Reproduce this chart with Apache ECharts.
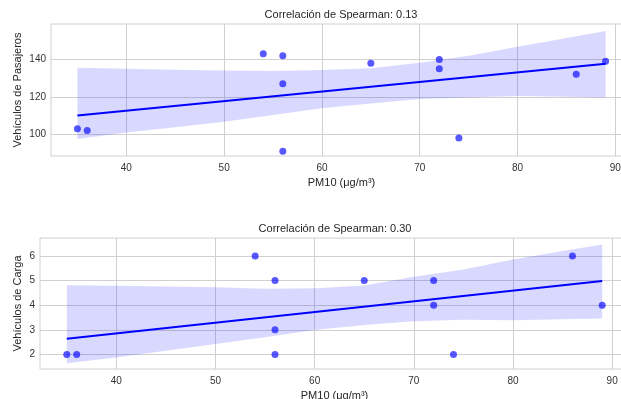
<!DOCTYPE html>
<html>
<head>
<meta charset="utf-8">
<script src="https://cdn.jsdelivr.net/npm/echarts@6/dist/echarts.min.js"></script>
<style>
  html, body { margin: 0; padding: 0; background: #fff; }
  #chart1 { width: 621px; height: 399px; }
</style>
</head>
<body>
<div id="chart1"></div>
<script>
// datos
var pm10 = [35, 36, 54, 56, 56, 56, 65, 72, 72, 74, 86, 89];
var pasajeros = [103, 102, 143, 142, 127, 91, 138, 140, 135, 98, 132, 139];
var carga = [2, 2, 6, 5, 3, 2, 5, 5, 4, 2, 6, 4];

// intervalo de confianza (bootstrap)
var bandX = [35, 40, 45, 50, 55, 60, 65, 70, 75, 80, 85, 89];
var pasajerosUpper = [135.5, 135.0, 134.4, 134.1, 133.8, 134.3, 135.2, 138.2, 142.0, 146.7, 151.4, 155.1];
var pasajerosLower = [97.5, 100.9, 103.8, 106.7, 110.3, 113.9, 116.5, 118.8, 119.6, 120.4, 120.0, 119.7];
var cargaUpper = [4.81, 4.79, 4.76, 4.73, 4.67, 4.69, 4.80, 5.16, 5.45, 5.86, 6.20, 6.47];
var cargaLower = [1.64, 1.88, 2.15, 2.43, 2.70, 2.99, 3.20, 3.35, 3.41, 3.39, 3.43, 3.46];

var xTicks = [40, 50, 60, 70, 80, 90];
var pasajerosTicks = [100, 120, 140];
var cargaTicks = [2, 3, 4, 5, 6];
var titles = ['Correlación de Spearman: 0.13', 'Correlación de Spearman: 0.30'];

var chart1 = echarts.init(document.getElementById('chart1'));

function fit(xs, ys) {
	var n = xs.length, mx = 0, my = 0;
	for (var i = 0; i < n; i++) { mx += xs[i]; my += ys[i]; }
	mx /= n; my /= n;
	var sxx = 0, sxy = 0;
	for (var j = 0; j < n; j++) {
		sxx += (xs[j] - mx) * (xs[j] - mx);
		sxy += (xs[j] - mx) * (ys[j] - my);
	}
	var b = sxy / sxx, a = my - b * mx;
	var x0 = Math.min.apply(null, xs), x1 = Math.max.apply(null, xs);
	return [[x0, a + b * x0], [x1, a + b * x1]];
}

function pairs(xs, ys) {
	return xs.map(function (x, i) { return [x, ys[i]]; });
}

function bandSeries(idx, upper, lower) {
	return {
		type: 'custom',
		xAxisIndex: idx,
		yAxisIndex: idx,
		silent: true,
		z: 1,
		data: bandX.map(function (x, i) { return [x, upper[i], lower[i]]; }),
		encode: { x: 0, y: [1, 2] },
		renderItem: function (params, api) {
			if (params.dataIndex !== 0) return;
			var pts = [];
			for (var i = 0; i < bandX.length; i++) pts.push(api.coord([bandX[i], upper[i]]));
			for (var k = bandX.length - 1; k >= 0; k--) pts.push(api.coord([bandX[k], lower[k]]));
			return {
				type: 'polygon',
				shape: { points: pts },
				style: { fill: 'rgba(0, 0, 255, 0.15)' }
			};
		}
	};
}

var font = 'Liberation Sans, Arial, sans-serif';
var gridColor = '#d0d0d0';

function xAxis(idx) {
	return {
		type: 'value',
		gridIndex: idx,
		min: 32.3,
		max: 91.7,
		name: 'PM10 (μg/m³)',
		nameLocation: 'middle',
		nameGap: 21,
		nameMoveOverlap: false,
		nameTextStyle: { color: '#262626', fontSize: 11, fontFamily: font },
		axisLine: { show: false },
		axisTick: { show: false, customValues: xTicks },
		axisLabel: { customValues: xTicks, color: '#333', fontSize: 10, fontFamily: font, margin: 7 },
		splitLine: { show: true, customValues: xTicks, lineStyle: { color: gridColor, width: 1 } }
	};
}

function yAxis(idx, name, min, max, ticks, gap) {
	return {
		type: 'value',
		gridIndex: idx,
		min: min,
		max: max,
		name: name,
		nameLocation: 'middle',
		nameGap: gap,
		nameMoveOverlap: false,
		nameTextStyle: { color: '#262626', fontSize: 11, fontFamily: font },
		axisLine: { show: false },
		axisTick: { show: false, customValues: ticks },
		axisLabel: { customValues: ticks, color: '#333', fontSize: 10, fontFamily: font, margin: 5 },
		splitLine: { show: true, customValues: ticks, lineStyle: { color: gridColor, width: 1 } }
	};
}

var option = {
	backgroundColor: '#ffffff',
	animation: false,
	title: [{
		text: titles[0],
		left: 341,
		top: 9,
		textAlign: 'center',
		padding: 0,
		textStyle: { color: '#262626', fontSize: 11, fontWeight: 'normal', fontFamily: font }
	}, {
		text: titles[1],
		left: 335,
		top: 223,
		textAlign: 'center',
		padding: 0,
		textStyle: { color: '#262626', fontSize: 11, fontWeight: 'normal', fontFamily: font }
	}],
	grid: [
		{ left: 51, width: 581, top: 24, height: 132, show: true, borderColor: gridColor, borderWidth: 1, outerBoundsMode: 'none', containLabel: false },
		{ left: 40, width: 589, top: 238, height: 131, show: true, borderColor: gridColor, borderWidth: 1, outerBoundsMode: 'none', containLabel: false }
	],
	xAxis: [xAxis(0), xAxis(1)],
	yAxis: [
		yAxis(0, 'Vehículos de Pasajeros', 88.4, 158.9, pasajerosTicks, 28),
		yAxis(1, 'Vehículos de Carga', 1.41, 6.73, cargaTicks, 17)
	],
	series: [
		bandSeries(0, pasajerosUpper, pasajerosLower),
		{
			type: 'scatter',
			xAxisIndex: 0,
			yAxisIndex: 0,
			symbolSize: 7,
			z: 3,
			itemStyle: { color: 'rgba(0, 0, 255, 0.82)' },
			data: pairs(pm10, pasajeros)
		},
		{
			type: 'line',
			xAxisIndex: 0,
			yAxisIndex: 0,
			showSymbol: false,
			z: 2,
			lineStyle: { color: '#0000ff', width: 2 },
			data: fit(pm10, pasajeros)
		},
		bandSeries(1, cargaUpper, cargaLower),
		{
			type: 'scatter',
			xAxisIndex: 1,
			yAxisIndex: 1,
			symbolSize: 7,
			z: 3,
			itemStyle: { color: 'rgba(0, 0, 255, 0.82)' },
			data: pairs(pm10, carga)
		},
		{
			type: 'line',
			xAxisIndex: 1,
			yAxisIndex: 1,
			showSymbol: false,
			z: 2,
			lineStyle: { color: '#0000ff', width: 2 },
			data: fit(pm10, carga)
		}
	]
};
chart1.setOption(option);
</script>
</body>
</html>
